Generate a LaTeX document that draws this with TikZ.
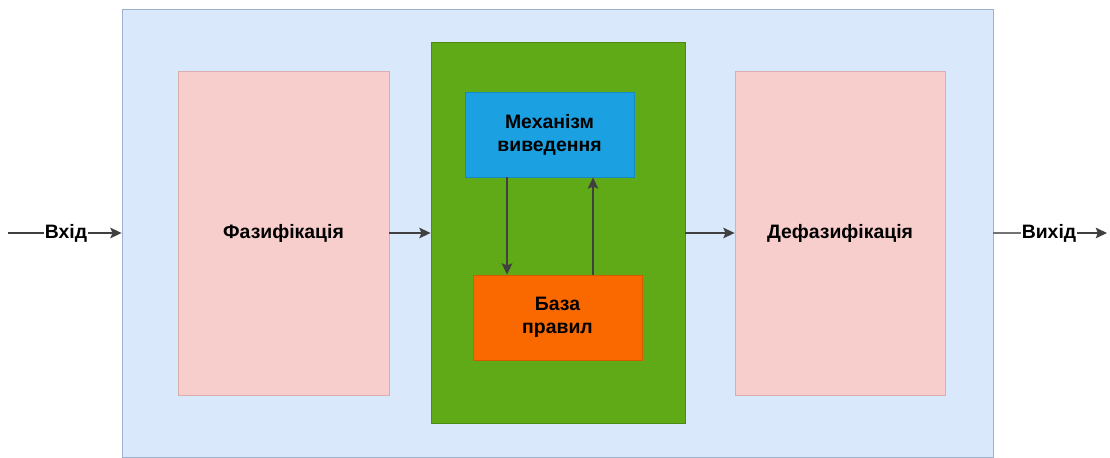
\documentclass[tikz,border=0pt]{standalone}
\usepackage{fontspec}
\setmainfont{Liberation Sans}
\usepackage{tikz}
\usetikzlibrary{arrows.meta,positioning}
\usepackage{xcolor}

\definecolor{frameFill}{HTML}{DAE8FC}
\definecolor{frameLine}{HTML}{9DB0CC}
\definecolor{pinkFill}{HTML}{F8CECC}
\definecolor{pinkLine}{HTML}{D9AEAC}
\definecolor{greenFill}{HTML}{60A917}
\definecolor{greenLine}{HTML}{4C8A12}
\definecolor{blueFill}{HTML}{1BA1E2}
\definecolor{blueLine}{HTML}{1689C2}
\definecolor{orangeFill}{HTML}{FA6800}
\definecolor{orangeLine}{HTML}{D85A00}

\begin{document}
\begin{tikzpicture}[
	x=0.025cm, y=-0.025cm,
	box/.style={draw, line width=0.6pt, inner sep=0pt, align=center,
		font=\fontsize{13.8}{16.4}\selectfont\bfseries},
	lbl/.style={inner sep=0.5pt, font=\fontsize{13.8}{16.4}\selectfont\bfseries},
	wire/.style={line width=1.1pt, draw=black!75},
	arr/.style={-{Stealth[length=8pt, width=7.5pt, inset=1.5pt]}, wire}
]
	\useasboundingbox (0,0) rectangle (1110,458);

	% Outer system frame
	\node[box, fill=frameFill, draw=frameLine, minimum width=871*0.025cm,
		minimum height=448*0.025cm] (frame) at (557.5, 233) {};

	% Fuzzification and defuzzification
	\node[box, fill=pinkFill, draw=pinkLine, minimum width=211*0.025cm,
		minimum height=324*0.025cm] (fuz) at (283.5, 233) {Фазифікація};
	\node[box, fill=pinkFill, draw=pinkLine, minimum width=210*0.025cm,
		minimum height=324*0.025cm] (defuz) at (840, 233) {Дефазифікація};

	% Inference block
	\node[box, fill=greenFill, draw=greenLine, minimum width=254*0.025cm,
		minimum height=381*0.025cm] (infer) at (558, 232.5) {};
	\node[box, fill=blueFill, draw=blueLine, minimum width=169*0.025cm,
		minimum height=85*0.025cm] (mech) at (549.5, 134.5)
		{Механізм\\ виведення};
	\node[box, fill=orangeFill, draw=orangeLine, minimum width=169*0.025cm,
		minimum height=85*0.025cm] (rules) at (557.5, 317.5)
		{База\\ правил};

	\draw[arr] (mech.south -| 507,0) -- (rules.north -| 507,0);
	\draw[arr] (rules.north -| 593,0) -- (mech.south -| 593,0);

	% Flow between blocks
	\draw[arr] (fuz.east) -- (infer.west |- fuz.east);
	\draw[arr] (infer.east |- defuz.west) -- (defuz.west);

	% Input
	\coordinate (inStart) at (8, 233);
	\node[lbl] (inLbl) at (66, 233) {Вхід};
	\draw[wire] (inStart) -- (inLbl);
	\draw[arr] (inLbl) -- (frame.west);

	% Output
	\node[lbl] (outLbl) at (1049, 233) {Вихід};
	\coordinate (outEnd) at (1107, 233);
	\draw[wire, draw=black!55] (frame.east) -- (outLbl);
	\draw[arr] (outLbl) -- (outEnd);
\end{tikzpicture}
\end{document}
